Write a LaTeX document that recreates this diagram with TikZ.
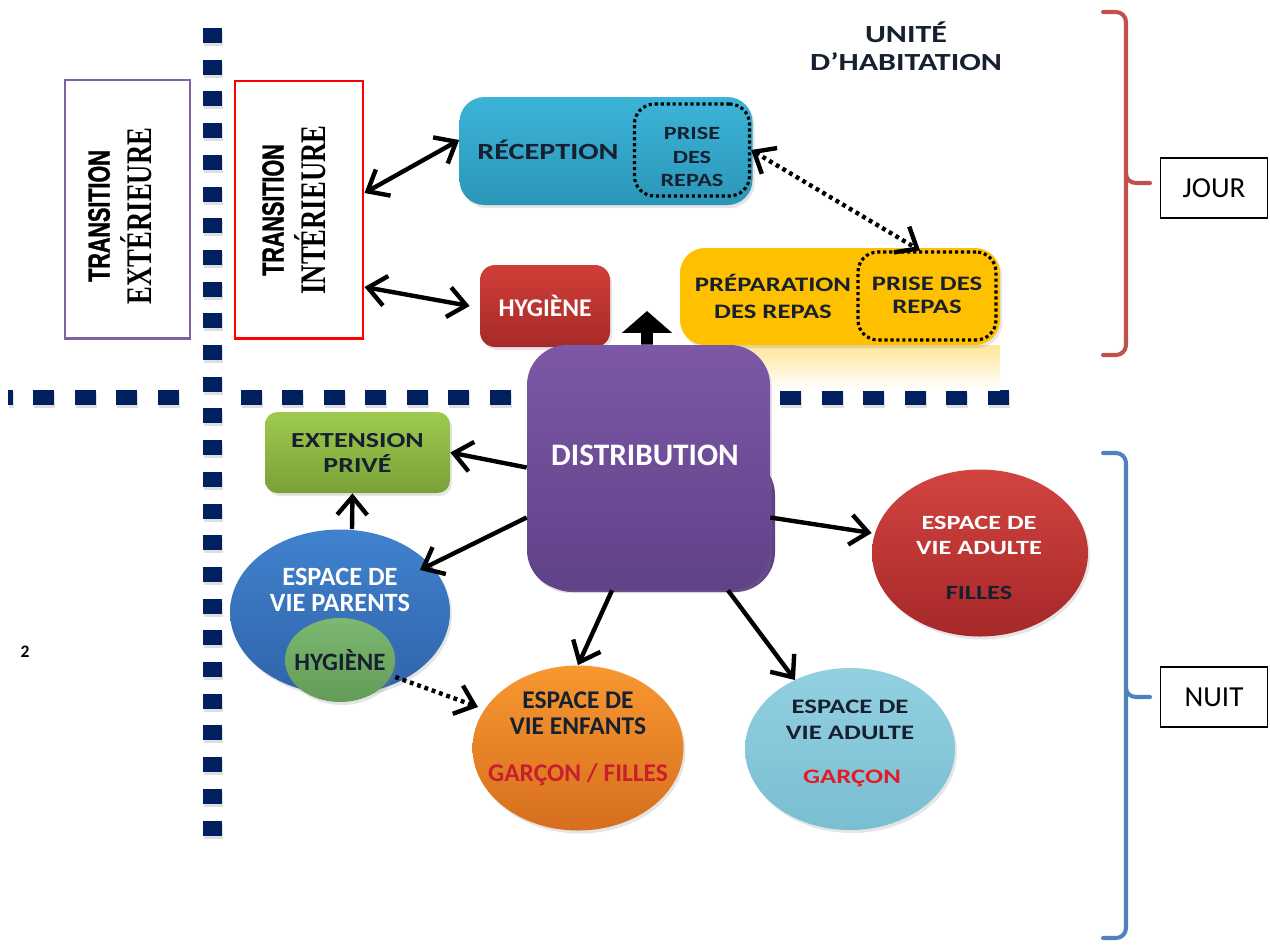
\documentclass[tikz,border=0pt]{standalone}
\usepackage{fontspec}
\setmainfont{Carlito}
\newfontfamily\widefont[FakeStretch=1.3]{Carlito}
\newfontfamily\transsans[FakeStretch=0.7,FakeBold=1.2]{Liberation Sans}
\newfontfamily\transserif[FakeStretch=0.74]{Liberation Serif}
\usetikzlibrary{arrows.meta,shapes.geometric,shadows}
\definecolor{navy}{RGB}{0,32,96}
\definecolor{txtdark}{RGB}{23,32,48}
\definecolor{transpurple}{RGB}{128,100,162}
\definecolor{transred}{RGB}{255,0,0}
\definecolor{recA}{RGB}{60,180,216}
\definecolor{recB}{RGB}{42,150,184}
\definecolor{hygA}{RGB}{208,62,56}
\definecolor{hygB}{RGB}{166,42,40}
\definecolor{prepA}{RGB}{255,192,0}
\definecolor{distA}{RGB}{124,88,166}
\definecolor{distB}{RGB}{96,66,136}
\definecolor{extA}{RGB}{158,202,78}
\definecolor{extB}{RGB}{122,160,56}
\definecolor{parA}{RGB}{64,130,206}
\definecolor{parB}{RGB}{48,100,170}
\definecolor{hygtwoA}{RGB}{124,184,112}
\definecolor{hygtwoB}{RGB}{98,156,88}
\definecolor{enfA}{RGB}{248,152,48}
\definecolor{enfB}{RGB}{214,110,30}
\definecolor{garA}{RGB}{146,208,224}
\definecolor{garB}{RGB}{122,190,210}
\definecolor{filA}{RGB}{210,68,64}
\definecolor{filB}{RGB}{166,40,40}
\definecolor{braceRed}{RGB}{192,80,77}
\definecolor{braceBlue}{RGB}{79,129,189}
\definecolor{redtxt}{RGB}{226,28,38}
\definecolor{redtxtdark}{RGB}{200,30,45}
\tikzset{
 sepsq/.style={fill=navy, drop shadow={opacity=0.25,shadow xshift=0.2mm,shadow yshift=-0.6mm}},
 transbox/.style={draw, line width=1.7pt, inner sep=0pt},
 rbox/.style={rounded corners=#1, inner sep=0pt, drop shadow={opacity=0.2,shadow xshift=0.4mm,shadow yshift=-0.6mm}},
 rbox/.default=3mm,
 oval/.style={ellipse, inner sep=0pt, drop shadow={opacity=0.2,shadow xshift=0.4mm,shadow yshift=-0.6mm}},
 lbl/.style={align=center, text=txtdark, inner sep=0pt},
 prisebox/.style={draw=black, line width=1.8pt, dash pattern=on 1.8pt off 1.6pt, rounded corners=4mm, inner sep=0pt},
 conn/.style={line width=2.5pt, draw=black},
 dotconn/.style={conn, dash pattern=on 2.2pt off 2.2pt},
 blockarrow/.style={line width=6.8pt, -{Triangle[length=12.5pt,width=28pt]}},
 bracestyle/.style={line width=2.3pt, line cap=round},
 tagbox/.style={draw=black, line width=0.7pt, minimum width=21.4mm, minimum height=12mm, inner sep=0pt, font=\fontsize{16.5}{18}\selectfont},
}
\begin{document}
\begin{tikzpicture}[x=0.2mm,y=-0.2mm, >={Straight Barb[length=3.6mm,width=6mm]}]
\useasboundingbox (0,0) rectangle (1270,946);
\fill[white] (0,0) rectangle (1270,946);

% separators
\foreach \n in {0,...,25} \fill[sepsq] (203,{28+31.7*\n}) rectangle ++(19,15);
\foreach \n in {0,1,2,3} \fill[sepsq] ({33+41.5*\n},390) rectangle ++(21,15);
\foreach \n in {5,...,11} \fill[sepsq] ({33+41.5*\n},390) rectangle ++(21,15);
\foreach \n in {18,...,23} \fill[sepsq] ({33+41.5*\n},390) rectangle ++(21,15);
\fill[sepsq] (8,390) rectangle (13,405);

% transition boxes
\node[transbox, draw=transpurple, minimum width=25mm, minimum height=51.6mm] (transext) at (127.5,209) {};
\node[rotate=90, align=center, inner sep=0pt] (transexttxt) at (120,216)
  {\transsans\bfseries\fontsize{17.5}{24}\selectfont TRANSITION\\[5pt]\transserif\bfseries\fontsize{20.5}{24}\selectfont EXTÉRIEURE};
\node[transbox, draw=transred, minimum width=25.6mm, minimum height=51.4mm] (transint) at (299,209.5) {};
\node[rotate=90, align=center, inner sep=0pt] (transinttxt) at (294,210)
  {\transsans\bfseries\fontsize{17.5}{24}\selectfont TRANSITION\\[5pt]\transserif\bfseries\fontsize{20.5}{24}\selectfont INTÉRIEURE};

% title
\node[lbl, font=\widefont\bfseries\fontsize{14}{15.9}\selectfont] (unite) at (906,46) {UNITÉ\\D’HABITATION};

% reception
\node[rbox=5mm, top color=recA, bottom color=recB, minimum width=58.6mm, minimum height=21.6mm] (reception) at (606,151) {};
\node[lbl, font=\widefont\bfseries\fontsize{13.2}{16}\selectfont] (receptxt) at (548,150) {RÉCEPTION};
\node[prisebox, minimum width=23mm, minimum height=18.4mm] (prise1) at (692,150) {};
\node[lbl, font=\widefont\bfseries\fontsize{10.6}{13.3}\selectfont] (prise1txt) at (692,157) {PRISE\\DES\\REPAS};

% hygiene top
\node[rbox=3mm, top color=hygA, bottom color=hygB, minimum width=26mm, minimum height=16.4mm, text=white, font=\bfseries\fontsize{14.5}{17}\selectfont] (hyg1) at (545,306) {HYGIÈNE};

% preparation
\fill[top color=prepA!40, bottom color=white] (690,345) rectangle (1000,390);
\node[rbox=5mm, fill=prepA, minimum width=64mm, minimum height=19.4mm] (prep) at (840,296.5) {};
\node[lbl, font=\widefont\bfseries\fontsize{11.7}{15.3}\selectfont] (preptxt) at (773,296) {PRÉPARATION\\DES REPAS};
\node[prisebox, minimum width=27.6mm, minimum height=17.6mm] (prise2) at (927,296) {};
\node[lbl, font=\widefont\bfseries\fontsize{11.7}{13}\selectfont] (prise2txt) at (927,295) {PRISE DES\\REPAS};

% block arrow
\coordinate (blocktip) at (647,311);

% distribution
\fill[distB, rounded corners=8mm] (532,455) rectangle (775,592);
\node[rbox=8mm, top color=distA, bottom color=distB, minimum width=48.6mm, minimum height=49mm] (dist) at (648.5,467.5) {};
\node[lbl, text=white, font=\bfseries\fontsize{17.8}{20}\selectfont] (disttxt) at (645,455) {DISTRIBUTION};
\draw[blockarrow] ([xshift=-0.3mm]dist.north) -- (blocktip);

% extension
\node[rbox=2.5mm, top color=extA, bottom color=extB, minimum width=37mm, minimum height=16.2mm, align=center, text=txtdark, font=\widefont\bfseries\fontsize{12.2}{14.2}\selectfont] (extension) at (357.5,452.5) {EXTENSION\\PRIVÉ};

% parents
\node[oval, top color=parA, bottom color=parB, minimum width=44mm, minimum height=33mm] (parents) at (340,612) {};
\node[lbl, text=white, font=\bfseries\fontsize{15}{14.7}\selectfont] (parentstxt) at (340,590) {ESPACE DE\\VIE PARENTS};
\node[oval, top color=hygtwoA, bottom color=hygtwoB, minimum width=22mm, minimum height=16.8mm] (hyg2) at (340,660) {};
\node[lbl, font=\bfseries\fontsize{14.2}{17}\selectfont] (hyg2txt) at (340,660) {HYGIÈNE};

% enfants
\node[oval, top color=enfA, bottom color=enfB, minimum width=42.2mm, minimum height=33mm] (enfants) at (578,748) {};
\node[lbl, font=\bfseries\fontsize{14.5}{14.7}\selectfont] (enfantstxt) at (578,713) {ESPACE DE\\VIE ENFANTS};
\node[lbl, text=redtxtdark, font=\bfseries\fontsize{14.5}{17}\selectfont] (enfantssub) at (578,775) {GARÇON / FILLES};

% adulte garcon
\node[oval, top color=garA, bottom color=garB, minimum width=42mm, minimum height=32.4mm] (garcon) at (850,749) {};
\node[lbl, font=\widefont\bfseries\fontsize{11.7}{14.7}\selectfont] (garcontxt) at (850,720) {ESPACE DE\\VIE ADULTE};
\node[lbl, text=redtxt, font=\widefont\bfseries\fontsize{11.7}{14}\selectfont] (garconsub) at (852,778) {GARÇON};

% adulte filles
\node[oval, top color=filA, bottom color=filB, minimum width=43.2mm, minimum height=33.4mm] (filles) at (980,553) {};
\node[lbl, text=white, font=\widefont\bfseries\fontsize{11.5}{14.2}\selectfont] (fillestxt) at (979,535) {ESPACE DE\\VIE ADULTE};
\node[lbl, font=\widefont\bfseries\fontsize{11.5}{14}\selectfont] (fillessub) at (979,593) {FILLES};

% connectors
\draw[conn, <->] ([yshift=3.3mm]transint.east) -- ([yshift=2.2mm]reception.west);
\draw[conn, <->] ([yshift=-15.5mm]transint.east) -- ([xshift=-2mm]hyg1.west);
\draw[dotconn, <->] (prise1.east) -- ([xshift=-1.4mm]prise2.north);
\draw[conn, ->] (dist.west) -- (extension.east);
\draw[conn, ->] ([yshift=-10mm]dist.west) -- ([shift={(80,-42)}]parents.center);
\draw[conn, ->] ([xshift=-7.3mm]dist.south) -- (enfants.north);
\draw[conn, ->] ([xshift=15.9mm]dist.south) -- ([shift={(-55,-69)}]garcon.center);
\draw[conn, ->] ([yshift=-10mm]dist.east) -- ([yshift=4mm]filles.west);
\draw[conn, ->] ([xshift=2.4mm]parents.north) -- ([xshift=-1mm]extension.south);
\draw[dotconn, ->] ([yshift=-3.4mm]hyg2.east) -- ([shift={(-100,-41)}]enfants.center);

% braces
\draw[bracestyle, draw=braceRed] (1103,12) -- (1116,12) to[out=0,in=90] (1126,22) -- (1126,345) to[out=-90,in=0] (1116,355) -- (1103,355);
\draw[bracestyle, draw=braceRed] (1126,174) to[out=-90,in=180] (1136,183) -- (1150,183);
\draw[bracestyle, draw=braceBlue] (1103,453) -- (1116,453) to[out=0,in=90] (1126,463) -- (1126,928) to[out=-90,in=0] (1116,938) -- (1103,938);
\draw[bracestyle, draw=braceBlue] (1126,688) to[out=-90,in=180] (1136,697) -- (1150,697);

\node[tagbox] (jour) at (1214,188) {JOUR};
\node[tagbox] (nuit) at (1214,697) {NUIT};

\node[font=\bfseries\fontsize{10}{12}\selectfont, inner sep=0pt] (pagenum) at (25,652) {2};
\end{tikzpicture}
\end{document}
